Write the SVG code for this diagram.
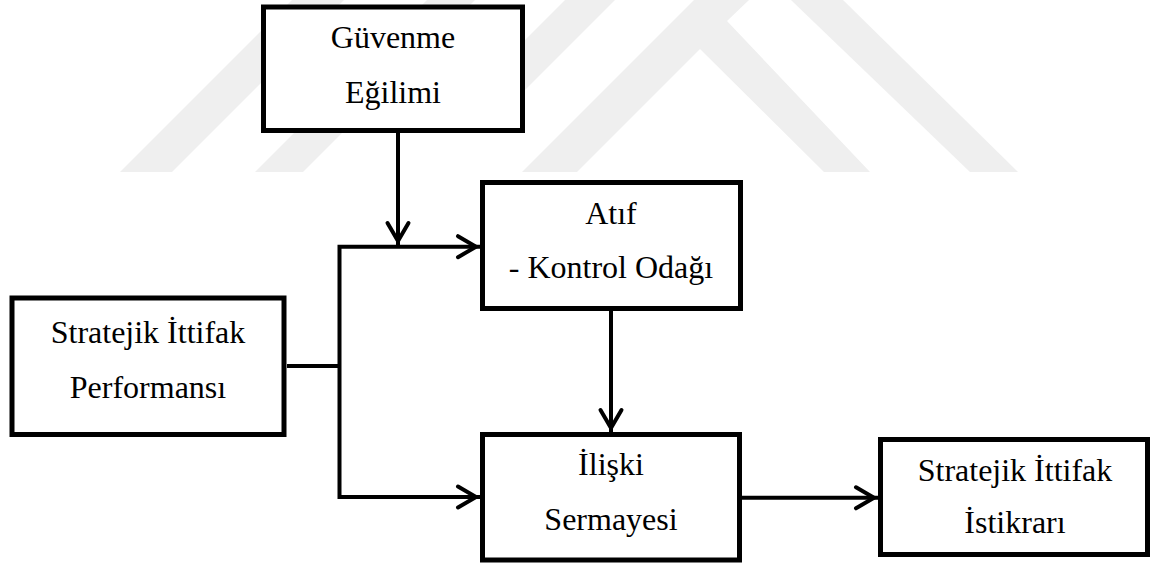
<svg xmlns="http://www.w3.org/2000/svg" width="1158" height="563" viewBox="0 0 1158 563">
<style>
.box{fill:#fff;stroke:#000;stroke-width:5}
.lbl{font-family:'Liberation Serif','Times New Roman',serif;font-size:32px;fill:#000;text-anchor:middle}
.wm{fill:#efefef;stroke:none}
.con{fill:none;stroke:#000;stroke-width:4;stroke-linejoin:miter}
</style>
<defs>
<marker id="arr" markerUnits="userSpaceOnUse" markerWidth="30" markerHeight="30" refX="0" refY="0" orient="auto" overflow="visible">
<path d="M-22,-10.5 L-4,0 L-22,10.5" fill="none" stroke="#000" stroke-width="4" stroke-linecap="round" stroke-linejoin="miter"/>
</marker>
</defs>
<rect width="1158" height="563" fill="#fff"/>
<g id="watermark">
<polygon class="wm" points="120,172 172,172 344,0 292,0"/>
<polygon class="wm" points="255,172 303,172 475,0 427,0"/>
<polygon class="wm" points="470,95 520,95 615,0 565,0"/>
<polygon class="wm" points="522,172 577,172 700,49 824,172 870,172 727,21 749,0 694,0"/>
<polygon class="wm" points="791,0 843,0 1018,172 970,172"/>
</g>
<g id="node-guvenme">
<rect class="box" x="263.5" y="7" width="259" height="123.5"/>
<text class="lbl" x="393" y="48">Güvenme</text>
<text class="lbl" x="393" y="103">Eğilimi</text>
</g>
<g id="node-atif">
<rect class="box" x="482.5" y="182.5" width="258" height="126"/>
<text class="lbl" x="611" y="224">Atıf</text>
<text class="lbl" x="611" y="278">- Kontrol Odağı</text>
</g>
<g id="node-performans">
<rect class="box" x="12" y="298" width="272" height="136.5"/>
<text class="lbl" x="148" y="343">Stratejik İttifak</text>
<text class="lbl" x="148" y="398">Performansı</text>
</g>
<g id="node-iliski">
<rect class="box" x="482.5" y="434.5" width="257" height="125.5"/>
<text class="lbl" x="611" y="475">İlişki</text>
<text class="lbl" x="611" y="530">Sermayesi</text>
</g>
<g id="node-istikrar">
<rect class="box" x="880.5" y="439.5" width="267" height="115"/>
<text class="lbl" x="1015" y="481">Stratejik İttifak</text>
<text class="lbl" x="1015" y="533">İstikrarı</text>
</g>
<g id="connectors">
<path class="con" d="M398,133 V245" marker-end="url(#arr)"/>
<path class="con" d="M287,366 H339.5"/>
<path class="con" d="M339.5,366 V246.7 H480" marker-end="url(#arr)"/>
<path class="con" d="M339.5,366 V497 H480" marker-end="url(#arr)"/>
<path class="con" d="M611,311 V432" marker-end="url(#arr)"/>
<path class="con" d="M742,497.8 H878" marker-end="url(#arr)"/>
</g>
</svg>
